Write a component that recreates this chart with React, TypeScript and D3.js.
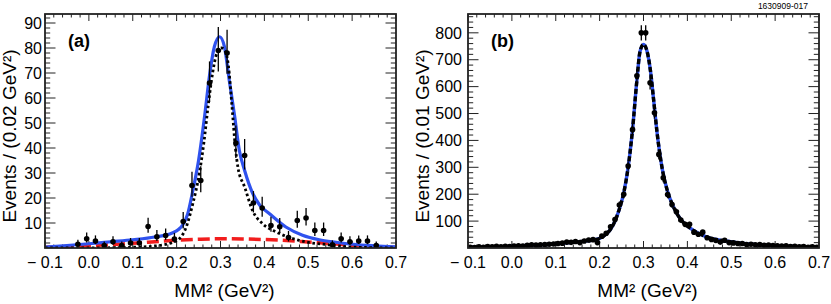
import React, { useRef, useEffect } from 'react';
import * as d3 from 'd3';

const W = 831;
const H = 304;
const TOP = 14;
const BOTTOM = 248;
const PW = 351;

// shared x axis
const xMajor = [-0.1, 0, 0.1, 0.2, 0.3, 0.4, 0.5, 0.6, 0.7];
const xLabels = ['\u2212 0.1', '0.0', '0.1', '0.2', '0.3', '0.4', '0.5', '0.6', '0.7'];

// panel (a): 0.02 GeV^2 bins
const aCenters = [
  -0.025, -0.005, 0.015, 0.035, 0.055, 0.075, 0.095, 0.115, 0.135, 0.155, 0.175, 0.195,
  0.215, 0.235, 0.255, 0.275, 0.295, 0.315, 0.335, 0.355, 0.375, 0.395, 0.415, 0.435,
  0.455, 0.475, 0.495, 0.515, 0.535, 0.555, 0.575, 0.595, 0.615, 0.635, 0.655,
];
const aCounts = [
  1.5, 3.7, 2.8, 1, 2.5, 1, 2, 2, 8.6, 4.5, 5, 3.6,
  10.6, 25, 27, 66, 79, 78, 42, 37, 18, 16, 9, 8.5,
  4.2, 11, 12, 7, 7, 1.3, 3.7, 2.5, 2.8, 2.8, 1,
];
const aYTicks = [10, 20, 30, 40, 50, 60, 70, 80, 90];

// fit curves (a)
const aTotal: [number, number][] = [
  [-0.1, 0.4], [-0.05, 1.0], [0, 1.7], [0.05, 2.5], [0.1, 3.3], [0.15, 4.4], [0.19, 6.0],
  [0.205, 7.5], [0.215, 9.5], [0.225, 13.5], [0.237, 23], [0.25, 35], [0.264, 53],
  [0.275, 69], [0.286, 80.5], [0.298, 84.5], [0.309, 80.5], [0.32, 67], [0.332, 53],
  [0.343, 39], [0.355, 31], [0.373, 22], [0.39, 17], [0.411, 13.8], [0.449, 8.4],
  [0.487, 5.1], [0.525, 3.3], [0.563, 2.3], [0.601, 1.5], [0.65, 0.9], [0.7, 0.5],
];
const aSignal: [number, number][] = [
  [-0.1, 0], [0.05, 0.1], [0.1, 0.3], [0.15, 0.8], [0.19, 2.2], [0.207, 3.8], [0.222, 8.4],
  [0.237, 17.8], [0.252, 30], [0.262, 42], [0.272, 57], [0.282, 70], [0.292, 78],
  [0.302, 80], [0.31, 79], [0.318, 73], [0.326, 57], [0.334, 40], [0.34, 32], [0.355, 24.4],
  [0.373, 15], [0.396, 9.7], [0.427, 6.4], [0.457, 4.2], [0.495, 2.4], [0.54, 1.4],
  [0.6, 0.4], [0.7, 0],
];
const aBkg: [number, number][] = [
  [-0.1, 0.3], [-0.05, 0.6], [0, 1.0], [0.05, 1.4], [0.1, 1.9], [0.15, 2.5], [0.2, 3.1],
  [0.25, 3.5], [0.3, 3.7], [0.35, 3.6], [0.4, 3.4], [0.45, 3.0], [0.5, 2.4], [0.55, 1.8],
  [0.6, 1.1], [0.65, 0.6], [0.7, 0.2],
];

// panel (b): 0.01 GeV^2 bins, centers -0.095 ... 0.695
const bCounts = [
  3, 2, 4, 3, 5, 4, 6, 4, 6, 5,
  7, 8, 7, 10, 12, 11, 12, 13, 14, 15,
  17, 18, 22, 21, 24, 20, 26, 30, 31, 20,
  44, 55, 79, 106, 160, 200, 305, 440, 640, 800,
  800, 614, 503, 348, 261, 199, 162, 135, 104, 88,
  88, 59, 51, 59, 38, 32, 28, 22, 29, 20,
  19, 17, 17, 13, 14, 12, 13, 10, 11, 9,
  8, 7, 8, 5, 6, 4, 5, 3, 4, 3,
];
const bYTicks = [100, 200, 300, 400, 500, 600, 700, 800];

const bFit: [number, number][] = [
  [-0.1, 3], [-0.05, 4.5], [0, 6], [0.05, 10.5], [0.1, 15.5], [0.15, 23], [0.19, 31],
  [0.205, 40], [0.215, 52], [0.225, 70], [0.235, 100], [0.245, 145], [0.255, 205],
  [0.265, 300], [0.275, 440], [0.285, 625], [0.292, 730], [0.3, 757], [0.308, 732],
  [0.316, 657], [0.323, 552], [0.331, 428], [0.343, 292], [0.354, 215], [0.369, 150],
  [0.385, 106], [0.408, 72], [0.446, 40], [0.484, 27], [0.522, 18], [0.56, 12.5],
  [0.598, 8], [0.65, 5], [0.7, 3],
];

interface PanelOpts {
  left: number;
  yMax: number;
  yTicks: number[];
  yMinorStep: number;
  centers: number[];
  counts: number[];
  poisson: boolean;
  label: string;
  yTitle: string;
  labelGap: number;
  titleX: number;
}

function drawPanel(svg: d3.Selection<SVGSVGElement, unknown, null, undefined>, o: PanelOpts) {
  const right = o.left + PW;
  const x = d3.scaleLinear().domain([-0.1, 0.7]).range([o.left, right]);
  const y = d3.scaleLinear().domain([0, o.yMax]).range([BOTTOM, TOP]);
  const g = svg.append('g');
  const font = 'Liberation Sans, Arial, Helvetica, sans-serif';
  const clipId = 'clip' + o.label.replace(/\W/g, '');

  g.append('clipPath').attr('id', clipId)
    .append('rect').attr('x', o.left).attr('y', TOP).attr('width', PW).attr('height', BOTTOM - TOP);

  // ticks on all four sides, pointing in
  const ticks = g.append('g').attr('stroke', '#222').attr('stroke-width', 1);
  const xMinor = d3.range(0, 41).map(i => -0.1 + i * 0.02);
  xMinor.forEach((v, i) => {
    const len = i % 5 === 0 ? 7 : 3.5;
    const px = x(v);
    ticks.append('line').attr('x1', px).attr('x2', px).attr('y1', BOTTOM).attr('y2', BOTTOM - len);
    ticks.append('line').attr('x1', px).attr('x2', px).attr('y1', TOP).attr('y2', TOP + len);
  });
  const yMinor = d3.range(o.yMinorStep, o.yMax, o.yMinorStep);
  yMinor.forEach(v => {
    const major = o.yTicks.some(t => Math.abs(t - v) < 1e-6);
    const len = major ? 10.5 : 5.2;
    const py = y(v);
    ticks.append('line').attr('x1', o.left).attr('x2', o.left + len).attr('y1', py).attr('y2', py);
    ticks.append('line').attr('x1', right).attr('x2', right - len).attr('y1', py).attr('y2', py);
  });

  // tick labels
  g.selectAll('text.xl').data(xMajor).join('text')
    .attr('x', d => x(d)).attr('y', 268)
    .attr('text-anchor', 'middle').attr('font-family', font).attr('font-size', 16)
    .text((d, i) => xLabels[i]);
  g.selectAll('text.yl').data(o.yTicks).join('text')
    .attr('x', o.left - o.labelGap).attr('y', d => y(d)).attr('dy', '0.36em')
    .attr('text-anchor', 'end').attr('font-family', font).attr('font-size', 16)
    .text(d => String(d));

  // axis titles
  g.append('text').attr('x', (o.left + right) / 2 + 4).attr('y', 297)
    .attr('text-anchor', 'middle').attr('font-family', font).attr('font-size', 19)
    .text('MM\u00b2 (GeV\u00b2)');
  g.append('text')
    .attr('transform', `translate(${o.titleX},136) rotate(-90)`)
    .attr('text-anchor', 'middle').attr('font-family', font).attr('font-size', 19)
    .text(o.yTitle);

  g.append('text').attr('x', o.left + 23).attr('y', 47)
    .attr('font-family', font).attr('font-size', 18).attr('font-weight', 'bold')
    .text(o.label);

  const plot = g.append('g').attr('clip-path', `url(#${clipId})`);
  const line = d3.line<[number, number]>().x(d => x(d[0])).y(d => y(d[1])).curve(d3.curveMonotoneX);

  if (o.poisson) {
    plot.append('path').attr('d', line(aBkg)).attr('fill', 'none')
      .attr('stroke', '#f21d1d').attr('stroke-width', 3.5).attr('stroke-dasharray', '12 5');
    plot.append('path').attr('d', line(aTotal)).attr('fill', 'none')
      .attr('stroke', '#2f52ee').attr('stroke-width', 3.2);
    plot.append('path').attr('d', line(aSignal)).attr('fill', 'none')
      .attr('stroke', '#000').attr('stroke-width', 2.8).attr('stroke-dasharray', '2.6 2.6');
  } else {
    plot.append('path').attr('d', line(bFit)).attr('fill', 'none')
      .attr('stroke', '#2f52ee').attr('stroke-width', 3.4);
    plot.append('path').attr('d', line(bFit)).attr('fill', 'none')
      .attr('stroke', '#000').attr('stroke-width', 3.4).attr('stroke-dasharray', '5 2.5');
  }

  // data points with error bars
  const pts = o.centers.map((c, i) => ({ c, n: o.counts[i] }));
  const err = (n: number): [number, number] => o.poisson
    ? [n + 0.5 - Math.sqrt(n + 0.25), n + 0.5 + Math.sqrt(n + 0.25)]
    : [n - Math.sqrt(n), n + Math.sqrt(n)];
  plot.selectAll('line.eb').data(pts).join('line')
    .attr('x1', d => x(d.c)).attr('x2', d => x(d.c))
    .attr('y1', d => y(err(d.n)[0])).attr('y2', d => y(err(d.n)[1]))
    .attr('stroke', '#000').attr('stroke-width', 1.3);
  plot.selectAll('circle.pt').data(pts).join('circle')
    .attr('cx', d => x(d.c)).attr('cy', d => y(d.n)).attr('r', 2.8).attr('fill', '#000');

  // frame
  g.append('rect').attr('x', o.left).attr('y', TOP).attr('width', PW).attr('height', BOTTOM - TOP)
    .attr('fill', 'none').attr('stroke', '#222').attr('stroke-width', 1.8);
}

const App: React.FC = () => {
  const svgRef = useRef<SVGSVGElement | null>(null);

  useEffect(() => {
    if (!svgRef.current) return;
    const svg = d3.select(svgRef.current);
    svg.selectAll('*').remove();

    drawPanel(svg, {
      left: 45, yMax: 93.6, yTicks: aYTicks, yMinorStep: 2,
      centers: aCenters, counts: aCounts, poisson: true,
      label: '(a)', yTitle: 'Events / (0.02 GeV\u00b2)', labelGap: 3, titleX: 16,
    });
    const bCenters = bCounts.map((_, i) => -0.095 + i * 0.01);
    drawPanel(svg, {
      left: 468, yMax: 870, yTicks: bYTicks, yMinorStep: 20,
      centers: bCenters, counts: bCounts, poisson: false,
      label: '(b)', yTitle: 'Events / (0.01 GeV\u00b2)', labelGap: 6, titleX: 429,
    });

    svg.append('text').attr('x', 808).attr('y', 8.5).attr('text-anchor', 'end')
      .attr('font-family', 'Liberation Sans, Arial, sans-serif').attr('font-size', 8.5)
      .text('1630909-017');
  }, []);

  return (
    <div style={{ position: 'fixed', left: 0, top: 0 }}>
      <svg ref={svgRef} width={W} height={H} style={{ display: 'block', background: '#fff' }} />
    </div>
  );
};

export default App;
